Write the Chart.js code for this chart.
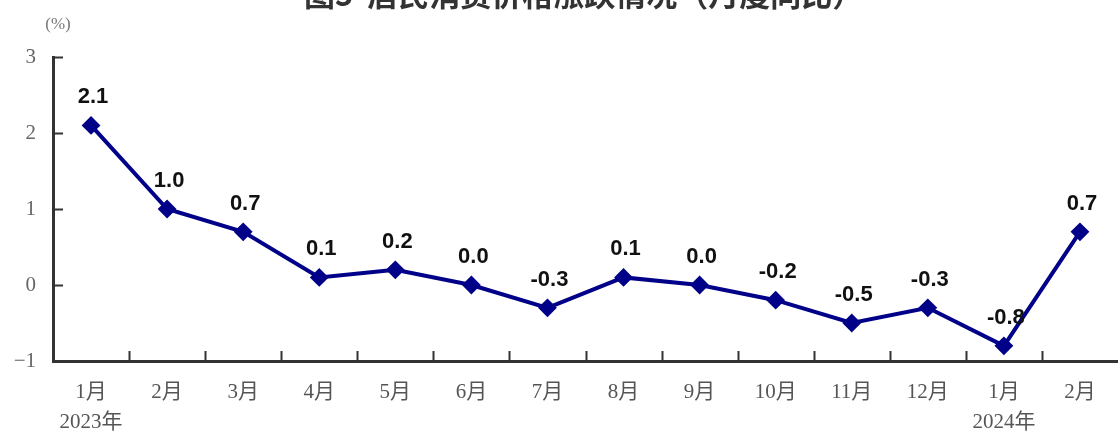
<!DOCTYPE html>
<html>
<head>
<meta charset="utf-8">
<script src="https://cdn.jsdelivr.net/npm/chart.js@4.4.1/dist/chart.umd.min.js"></script>
<style>
  html, body { margin: 0; padding: 0; background: #fff; }
  #wrap { width: 1118px; height: 432px; position: relative; }
</style>
</head>
<body>
<div id="wrap"><canvas id="cpiChart" width="1118" height="432"></canvas></div>
<script>
// 月份标签（带年份的为两行）
const months = [
    ['1月', '2023年'], '2月', '3月', '4月', '5月', '6月', '7月',
    '8月', '9月', '10月', '11月', '12月', ['1月', '2024年'], '2月'
];
// 居民消费价格同比涨跌（%）
const cpiYoY = [2.1, 1.0, 0.7, 0.1, 0.2, 0.0, -0.3, 0.1, 0.0, -0.2, -0.5, -0.3, -0.8, 0.7];
const yTicks = [-1, 0, 1, 2, 3];

const titleText = '图5  居民消费价格涨跌情况（月度同比）';
const unitText = '(%)';

const lineColor = '#000088';
const axisColor = '#333';
const tickFont = "'Liberation Serif', 'Noto Sans CJK SC', serif";

// 标题、单位、向内的刻度线
const decorPlugin = {
    id: 'decor',
    afterDraw(chart) {
        const { ctx, scales: { x, y } } = chart;
        ctx.save();
        ctx.strokeStyle = axisColor;
        ctx.lineWidth = 2;
        // y轴刻度（向右）
        yTicks.forEach(v => {
            if (v === y.min) return;
            const py = Math.round(y.getPixelForValue(v)) + 0.5;
            ctx.beginPath();
            ctx.moveTo(x.left, py);
            ctx.lineTo(x.left + 10, py);
            ctx.stroke();
        });
        // x轴刻度（向上，位于月份之间）
        for (let i = 0; i < months.length - 1; i++) {
            const px = Math.round((x.getPixelForTick(i) + x.getPixelForTick(i + 1)) / 2) + 0.5;
            ctx.beginPath();
            ctx.moveTo(px, y.bottom);
            ctx.lineTo(px, y.bottom - 10);
            ctx.stroke();
        }
        // 单位
        ctx.fillStyle = '#777';
        ctx.font = "17px " + tickFont;
        ctx.textAlign = 'center';
        ctx.textBaseline = 'middle';
        ctx.fillText(unitText, 58, 25);
        // 标题（上方被裁切）
        ctx.fillStyle = '#333';
        ctx.font = "bold 31px 'Noto Sans CJK SC', sans-serif";
        ctx.textAlign = 'left';
        ctx.fillText(titleText, 304, -6);
        ctx.restore();
    }
};

// 数据标签
const valueLabels = {
    id: 'valueLabels',
    afterDatasetsDraw(chart) {
        const { ctx } = chart;
        const meta = chart.getDatasetMeta(0);
        ctx.save();
        ctx.fillStyle = '#111';
        ctx.font = "bold 22px 'Liberation Sans', Arial, sans-serif";
        ctx.textAlign = 'center';
        ctx.textBaseline = 'middle';
        meta.data.forEach((pt, i) => {
            ctx.fillText(cpiYoY[i].toFixed(1), pt.x + 2, pt.y - 28);
        });
        ctx.restore();
    }
};

new Chart(document.getElementById('cpiChart'), {
    type: 'line',
    data: {
        labels: months,
        datasets: [{
            data: cpiYoY,
            borderColor: lineColor,
            backgroundColor: lineColor,
            borderWidth: 4,
            pointStyle: 'rectRot',
            pointRadius: 8,
            pointBorderWidth: 2,
            pointBackgroundColor: lineColor,
            pointBorderColor: lineColor,
            tension: 0,
            clip: false
        }]
    },
    options: {
        responsive: false,
        animation: false,
        layout: { autoPadding: false, padding: { top: 57, right: 0, left: 0, bottom: 0 } },
        plugins: {
            legend: { display: false },
            tooltip: { enabled: false },
            title: { display: false }
        },
        scales: {
            x: {
                offset: true,
                grid: { display: false, drawTicks: false },
                border: { display: true, color: axisColor, width: 3 },
                ticks: {
                    color: '#555',
                    font: { family: tickFont, size: 21, lineHeight: 1.45 },
                    padding: 16,
                    maxRotation: 0,
                    autoSkip: false
                },
                afterFit(scale) {
                    scale.height = 71;
                    scale.paddingLeft = 0;
                    scale.paddingRight = 0;
                }
            },
            y: {
                min: -1,
                max: 3,
                grid: { display: false, drawTicks: false },
                border: { display: true, color: axisColor, width: 3 },
                afterBuildTicks(scale) { scale.ticks = yTicks.map(v => ({ value: v })); },
                ticks: {
                    color: '#666',
                    font: { family: tickFont, size: 21 },
                    padding: 17,
                    callback: v => (v < 0 ? '\u2212' + Math.abs(v) : String(v))
                },
                afterFit(scale) { scale.width = 53; }
            }
        }
    },
    plugins: [decorPlugin, valueLabels]
});
</script>
</body>
</html>
